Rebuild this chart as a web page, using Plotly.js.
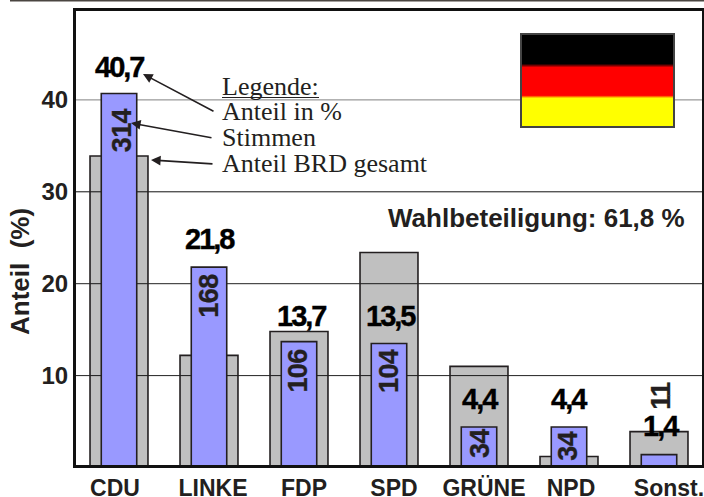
<!DOCTYPE html>
<html><head><meta charset="utf-8">
<script src="https://cdn.plot.ly/plotly-3.0.1.min.js"></script>
<style>html,body{margin:0;padding:0;background:#fff}
text.annotation-text[style*="font-size: 29px"]{letter-spacing:-2px;stroke:#000;stroke-width:.4px}
text.annotation-text[style*="font-size: 27px"]{letter-spacing:-.6px;stroke:#231f20;stroke-width:.3px}
</style>
</head><body><div id="c" style="width:704px;height:497px"></div>
<script>
const parties = ['CDU','LINKE','FDP','SPD','GRÜNE','NPD','Sonst.'];
const anteil = [40.7,21.8,13.7,13.5,4.4,4.4,1.4];
const anteilText = ['40,7','21,8','13,7','13,5','4,4','4,4','1,4'];
const stimmen = [314,168,106,104,34,34,11];
const anteilBRD = [33.9,12.2,14.8,23.4,11.0,1.2,3.9];
const yTicks = [10,20,30,40];
const gridColors = ['#222','#222','#111','#808080'];
// label placement (not data)
const labelY = [43.6,24.9,16.5,16.5,7.45,7.45,4.5];
const labelDx = [0,1,2,2,1,0,2];
const countY = [36.7,18.7,10.55,10.5,2.55,2.26,7.8];
const countDx = [3,0,-1,0,1,-1,2];
const tickDx = [-4,4,5,5,5,2,10];
const legendLines = ['Legende:','Anteil in %','Stimmen','Anteil BRD gesamt'];
const legendPy = [87,112,137,163];
const L=76, W=626, T=11, H=454;
const PX_PER_UNIT_Y=9.19, Y0=467.5, PX_PER_CAT=90, CX0=119;
const X=p=>(p-L)/W, Y=p=>(T+H-p)/H;
const ink='#231f20';
const ann=[];
parties.forEach((p,i)=>{
  ann.push({xref:'x',yref:'y',x:i,y:labelY[i],xshift:labelDx[i],text:'<b>'+anteilText[i]+'</b>',showarrow:false,
    font:{family:'Liberation Sans',size:29,color:'#000'},xanchor:'center',yanchor:'middle'});
  ann.push({xref:'x',yref:'y',x:i,y:countY[i],xshift:countDx[i],text:'<b>'+stimmen[i]+'</b>',textangle:-90,showarrow:false,
    font:{family:'Liberation Sans',size:27,color:ink},xanchor:'center',yanchor:'middle'});
});
legendLines.forEach((t,i)=>ann.push({xref:'paper',yref:'paper',x:X(220),y:Y(legendPy[i]),text:t,showarrow:false,
  font:{family:'Liberation Serif',size:26,color:ink},xanchor:'left',yanchor:'middle'}));
ann.push({xref:'paper',yref:'paper',x:X(687),y:Y(218),text:'<b>Wahlbeteiligung: 61,8 %</b>',showarrow:false,
  font:{family:'Liberation Sans',size:26,color:ink},xanchor:'right',yanchor:'middle'});
ann.push({xref:'paper',yref:'paper',x:X(20),y:Y(272),text:'<b>Anteil  (%)</b>',textangle:-90,showarrow:false,
  font:{family:'Liberation Sans',size:26,color:ink},xanchor:'center',yanchor:'middle'});
[[215,112,143,74],[213,138,131,123],[214,164,151,160]].forEach(a=>ann.push({xref:'paper',yref:'paper',axref:'paper',ayref:'paper',
  x:X(a[2]),y:Y(a[3]),ax:X(a[0]),ay:Y(a[1]),text:'',showarrow:true,arrowhead:2,arrowsize:1.2,arrowwidth:1.6,arrowcolor:ink}));
const flagSvg='<svg xmlns="http://www.w3.org/2000/svg" width="155" height="95" viewBox="0 0 155 95"><defs><linearGradient id="g" x1="0" y1="0" x2="0" y2="1">'+
 '<stop offset="0.32" stop-color="#000"/><stop offset="0.36" stop-color="#f00"/><stop offset="0.66" stop-color="#f00"/><stop offset="0.69" stop-color="#ff0"/></linearGradient></defs>'+
 '<rect x="1" y="1" width="153" height="93" fill="url(#g)" stroke="#444" stroke-width="2"/></svg>';
const shapes=yTicks.map((v,i)=>({type:'line',layer:'between',xref:'paper',yref:'y',x0:0,x1:1,y0:v,y1:v,line:{color:gridColors[i],width:1}}));
shapes.push({type:'line',xref:'paper',yref:'paper',x0:X(10),x1:1.05,y0:Y(0.5),y1:Y(0.5),line:{color:'#4a4541',width:2}});
shapes.push({type:'line',xref:'paper',yref:'paper',x0:X(222),x1:X(319),y0:Y(97.5),y1:Y(97.5),line:{color:ink,width:1.2}});
const traces=[
 {type:'bar',name:'Anteil BRD gesamt',x:parties.map((_,i)=>i),y:anteilBRD,width:0.644,marker:{color:'rgba(0,0,0,0.247)',line:{color:ink,width:1.6}},hoverinfo:'y'},
 {type:'bar',name:'Anteil in %',x:parties.map((_,i)=>i),y:anteil,width:0.394,marker:{color:'#9999ff',line:{color:ink,width:1.6}},hoverinfo:'y'}
];
const layout={
 width:704,height:497,showlegend:false,barmode:'overlay',paper_bgcolor:'#fff',plot_bgcolor:'#fff',
 margin:{l:L,r:704-L-W,t:T,b:497-T-H,pad:0},
 xaxis:{range:[(L-CX0)/PX_PER_CAT,(L+W-CX0)/PX_PER_CAT],tickmode:'array',tickvals:parties.map((_,i)=>i+tickDx[i]/PX_PER_CAT),ticktext:parties,tickangle:0,
   ticklabeloverflow:'allow',showgrid:false,zeroline:false,ticks:'',showline:true,mirror:true,linecolor:'#111',linewidth:3,
   tickfont:{family:'Liberation Sans',size:23,color:ink,weight:700}},
 yaxis:{range:[(Y0-T-H)/PX_PER_UNIT_Y,(Y0-T)/PX_PER_UNIT_Y],tickmode:'array',tickvals:yTicks,showgrid:false,zeroline:false,ticks:'',showline:true,mirror:true,linecolor:'#111',linewidth:3,
   tickfont:{family:'Liberation Sans',size:24,color:ink,weight:700}},
 annotations:ann,shapes:shapes,
 images:[{source:'data:image/svg+xml;base64,'+btoa(flagSvg),xref:'paper',yref:'paper',x:X(520),y:Y(33),sizex:155/W,sizey:95/H,sizing:'stretch',xanchor:'left',yanchor:'top',layer:'above'}]
};
Plotly.newPlot('c',traces,layout,{displayModeBar:false,staticPlot:true});
</script></body></html>
